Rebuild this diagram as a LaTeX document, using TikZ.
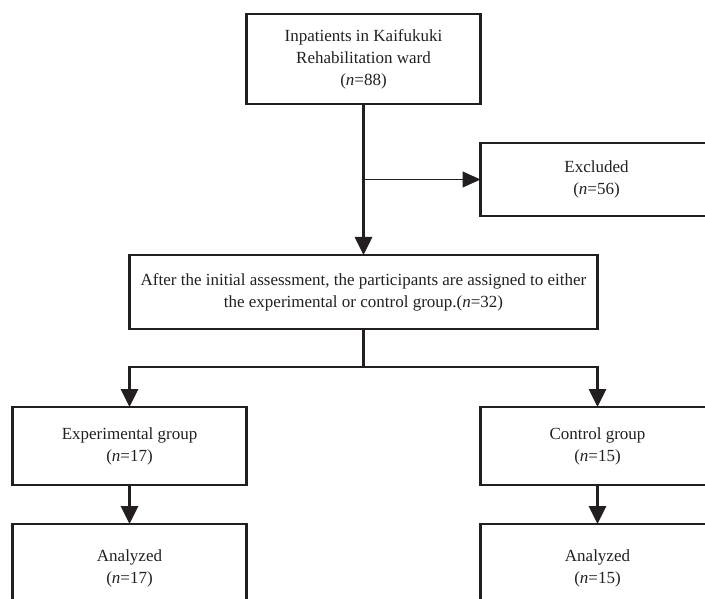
\documentclass[tikz,border=0pt]{standalone}
\usepackage{fontspec}
\setmainfont{Liberation Serif}
\usepackage{tikz}
\usetikzlibrary{arrows.meta,positioning}
\definecolor{ink}{RGB}{35,31,32}
\tikzset{
  flowbox/.style={
    draw=ink,
    line width=2.9pt,
    align=center,
    inner sep=4pt,
    outer sep=0pt,
    text=ink,
    font=\fontsize{17}{22}\selectfont
  },
  sidebox/.style={flowbox, minimum width=232pt, minimum height=73pt},
  groupbox/.style={flowbox, minimum width=234pt, minimum height=78pt},
  flowarrow/.style={-{Triangle[length=18pt,width=17pt]}, line width=2.9pt, draw=ink},
  thinarrow/.style={-{Triangle[length=18pt,width=16pt]}, line width=1pt, draw=ink}
}

\begin{document}
\begin{tikzpicture}[x=1pt, y=1pt]
    \clip (0,0) rectangle (705,-599);
    \node[flowbox, minimum width=234pt, minimum height=90pt] (intake) at (363.5,-59)
      {Inpatients in Kaifukuki\\Rehabilitation ward\\(\textit{n}=88)};
    \node[sidebox, anchor=north west] (excl) at ([yshift=-39pt]intake.south east)
      {Excluded\\(\textit{n}=56)};
    \node[flowbox, below=151pt of intake, minimum width=468pt, minimum height=74pt] (assign)
      {After the initial assessment, the participants are assigned to either\\the experimental or control group.(\textit{n}=32)};
    \node[groupbox, below=78pt of assign.south west] (expgrp) {Experimental group\\(\textit{n}=17)};
    \node[groupbox, below=78pt of assign.south east] (ctlgrp) {Control group\\(\textit{n}=15)};
    \node[groupbox, below=39pt of expgrp, minimum height=88pt] (expana) {Analyzed\\(\textit{n}=17)};
    \node[groupbox, below=39pt of ctlgrp, minimum height=88pt] (ctlana) {Analyzed\\(\textit{n}=15)};
    \coordinate (split) at (intake.south |- excl.west);
    \coordinate (fork) at ([yshift=-38pt]assign.south);
    \draw[flowarrow] (intake) -- (assign);
    \draw[thinarrow] (split) -- (excl);
    \draw[line width=2.9pt, draw=ink] (assign) -- (fork);
    \draw[flowarrow] (fork) -| (expgrp);
    \draw[flowarrow] (fork) -| (ctlgrp);
    \draw[flowarrow] (expgrp) -- (expana);
    \draw[flowarrow] (ctlgrp) -- (ctlana);
  \end{tikzpicture}
\end{document}
